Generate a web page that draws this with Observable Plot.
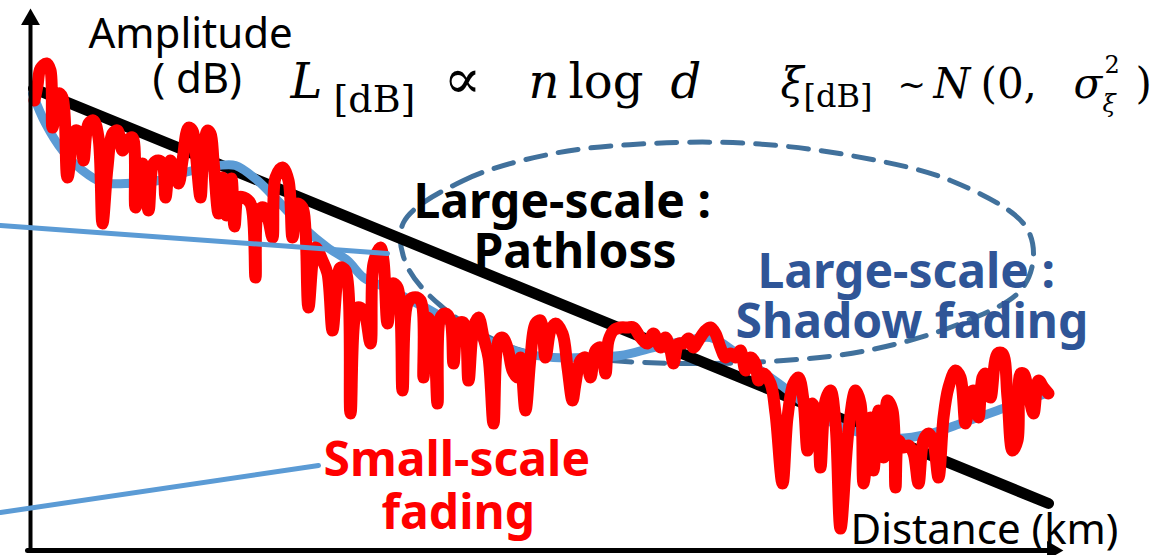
<!DOCTYPE html>
<html><head><meta charset="utf-8">
<script src="https://cdn.jsdelivr.net/npm/d3@7"></script>
<script src="https://cdn.jsdelivr.net/npm/@observablehq/plot@0.6"></script>
<style>html,body{margin:0;padding:0;background:#fff;} svg{display:block;}</style>
</head><body><div id="chart"></div>
<script>
// Distance / amplitude pairs (arbitrary units)
const smallScaleFading = [
[4,448],[7,463],[10,480],[16,485],[20,478],[22,421],[28,455],[32,451],[37,371],[45,418],[50,415],[53,388],
[58,425],[63,428],[68,411],[72,325],[77,381],[82,415],[87,418],[92,398],[97,408],[102,411],[105,341],
[112,385],[118,338],[123,385],[128,388],[132,385],[135,351],[140,388],[148,365],[152,388],[158,421],
[162,418],[165,398],[170,351],[173,398],[177,418],[180,415],[183,388],[188,335],[192,371],[196,333],
[201,370],[204,322],[208,351],[213,351],[220,345],[225,271],[228,338],[233,341],[238,328],[242,311],
[245,371],[252,381],[258,368],[262,311],[267,345],[272,341],[275,318],[278,241],[285,301],[292,288],
[297,275],[302,218],[307,271],[310,281],[315,278],[320,135],[327,241],[333,238],[340,205],[343,285],
[350,301],[353,288],[357,225],[362,265],[367,261],[372,158],[377,245],[383,251],[390,248],[393,171],
[397,231],[402,221],[407,145],[410,231],[415,235],[420,228],[423,185],[428,225],[433,226],[438,168],
[443,221],[448,231],[453,211],[458,191],[463,125],[468,208],[472,211],[477,201],[482,178],[487,171],
[490,191],[495,138],[500,191],[505,225],[510,228],[515,191],[520,218],[525,225],[532,215],[537,181],
[542,148],[545,165],[550,188],[555,191],[560,171],[565,198],[570,201],[575,175],[578,208],[583,218],
[590,221],[597,221],[603,221],[610,211],[617,205],[623,215],[630,201],[635,211],[640,198],[643,185],
[648,205],[653,205],[658,210],[663,201],[668,208],[675,218],[680,221],[685,215],[690,201],[695,191],
[700,195],[705,191],[710,198],[715,178],[720,191],[725,185],[728,168],[733,175],[740,165],[745,135],
[752,65],[757,131],[763,165],[768,171],[773,148],[777,98],[782,145],[787,131],[790,81],[795,148],
[800,158],[805,125],[810,20],[818,118],[825,158],[830,145],[833,65],[840,131],[843,78],[848,138],
[853,91],[857,148],[862,138],[865,61],[868,108],[873,101],[878,103],[883,95],[888,65],[893,108],
[898,115],[903,105],[908,71],[913,131],[918,161],[925,178],[930,171],[935,125],[940,155],[943,158],
[948,131],[952,171],[955,175],[960,151],[967,195],[972,195],[977,151],[982,98],[987,108],[990,175],
[993,175],[998,155],[1003,135],[1008,168],[1013,161],[1018,155]
];
const shadowFadingMean = [
[2,455],[15,425],[32,398],[52,378],[72,366],[95,365],[128,368],[162,378],[188,383],[205,383],[227,368],
[247,348],[273,321],[297,301],[317,288],[333,271],[355,261],[375,251],[400,238],[425,223],[457,208],
[490,196],[523,191],[557,191],[590,193],[623,201],[657,208],[680,211],[705,196],[730,178],[755,160],
[780,140],[805,124],[833,115],[867,110],[900,115],[933,126],[967,138],[1000,150],[1017,155]
];
const pathLoss = [[3,460],[1018,45]];
const shadowRegion = [
[373,326],[433,368],[523,395],[620,405],[720,405],[820,393],[920,368],[993,325],[1003,293],[990,258],
[930,225],[837,198],[753,188],[670,185],[580,188],[485,200],[410,243],[375,286]
];
const axisY = [[0,-2],[0,525]];
const axisX = [[-3,-2],[1020,-2]];
const arrowTips = [{x:0, y:529, angle:0}, {x:1022, y:-2, angle:90}];
const leaderShadow = [[-30,323],[357,295]];
const leaderSmall = [[-30,36],[288,83]];

const axisLabels = [
  {text:"Amplitude", x:58, y:501},
  {text:"( dB)", x:122, y:456},
  {text:"Distance (km)", x:820, y:5}
];
const pathlossLabel = [
  {text:"Large-scale :", x:383, y:331},
  {text:"Pathloss", x:443, y:281}
];
const shadowLabel = [
  {text:"Large-scale :", x:727, y:261},
  {text:"Shadow fading", x:705, y:211}
];
const smallLabel = [
  {text:"Small-scale", x:293, y:73},
  {text:"fading", x:351, y:20}
];
// formula pieces
const formulaItalic = [
  {text:"L", x:260, y:451},
  {text:"n", x:498, y:451},
  {text:"d", x:640, y:451}
];
const formulaUpright = [{text:"log", x:538, y:451}];
const formulaProp = [{text:"\u221D", x:413, y:451}];
const formulaSub = [{text:"[dB]", x:303, y:437}];
const noiseItalic = [
  {text:"\u03BE", x:750, y:451},
  {text:"N", x:903, y:451},
  {text:"\u03C3", x:1043, y:451}
];
const noiseUpright = [
  {text:"(0,", x:950, y:451},
  {text:")", x:1105, y:451}
];
const noiseTilde = [{text:"~", x:867, y:453}];
const noiseSub = [{text:"[dB]", x:773, y:442}];
const noiseSubItalic = [{text:"\u03BE", x:1072, y:437}];
const noiseSup = [{text:"2", x:1074, y:476}];

const sans = "'Noto Sans', 'Open Sans', sans-serif";
const serif = "'DejaVu Serif', 'Liberation Serif', serif";

const txt = (data, o) => Plot.text(data, {x:"x", y:"y", text:"text", textAnchor:"start", lineAnchor:"bottom", ...o});

const chart = Plot.plot({
  width: 1165,
  height: 555,
  margin: 0,
  x: {domain:[0,1135], range:[30,1165], axis:null},
  y: {domain:[0,548], range:[548,0], axis:null},
  style: {background:"#fff", overflow:"visible"},
  marks: [
    Plot.line(shadowRegion, {curve:"catmull-rom-closed", stroke:"#41719C", strokeWidth:5, strokeDasharray:"20,13"}),
    Plot.line(pathLoss, {stroke:"#000", strokeWidth:11}),
    Plot.line(shadowFadingMean, {curve:"catmull-rom", stroke:"#5B9BD5", strokeWidth:9}),
    Plot.line(smallScaleFading, {curve:"catmull-rom", stroke:"#FF0000", strokeWidth:12, strokeLinejoin:"round", strokeLinecap:"round"}),
    Plot.line(axisY, {stroke:"#000", strokeWidth:4}),
    Plot.line(axisX, {stroke:"#000", strokeWidth:5}),
    Plot.dot(arrowTips, {x:"x", y:"y", rotate:"angle", symbol:"triangle2", r:9, fill:"#000", stroke:"none"}),
    Plot.line(leaderShadow, {stroke:"#5B9BD5", strokeWidth:5}),
    Plot.line(leaderSmall, {stroke:"#5B9BD5", strokeWidth:5}),
    txt(axisLabels, {fontFamily:sans, fontSize:42, fill:"#000"}),
    txt(pathlossLabel, {fontFamily:sans, fontSize:48, fontWeight:"bold", fill:"#000"}),
    txt(shadowLabel, {fontFamily:sans, fontSize:48, fontWeight:"bold", fill:"#2F5597"}),
    txt(smallLabel, {fontFamily:sans, fontSize:48, fontWeight:"bold", fill:"#FF0000"}),
    txt(formulaItalic, {fontFamily:serif, fontSize:48, fontStyle:"italic", fill:"#000"}),
    txt(formulaUpright, {fontFamily:serif, fontSize:48, fill:"#000"}),
    txt(formulaProp, {fontFamily:serif, fontSize:56, fill:"#000"}),
    txt(formulaSub, {fontFamily:serif, fontSize:38, fill:"#000"}),
    txt(noiseItalic, {fontFamily:serif, fontSize:42, fontStyle:"italic", fill:"#000"}),
    txt(noiseUpright, {fontFamily:serif, fontSize:42, fill:"#000"}),
    txt(noiseTilde, {fontFamily:serif, fontSize:34, fill:"#000"}),
    txt(noiseSub, {fontFamily:serif, fontSize:32, fill:"#000"}),
    txt(noiseSubItalic, {fontFamily:serif, fontSize:24, fontStyle:"italic", fill:"#000"}),
    txt(noiseSup, {fontFamily:serif, fontSize:24, fill:"#000"})
  ]
});
document.getElementById("chart").appendChild(chart);
</script>
</body></html>
